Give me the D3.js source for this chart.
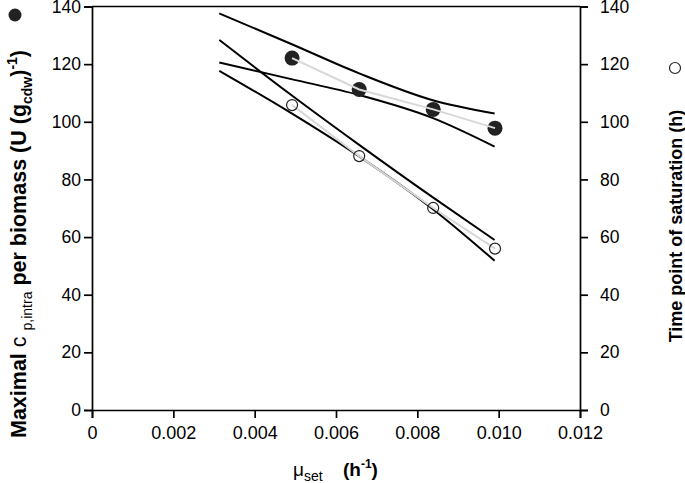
<!DOCTYPE html>
<html>
<head>
<meta charset="utf-8">
<script src="https://cdn.jsdelivr.net/npm/d3@7"></script>
<style>
  body { margin: 0; background: #fff; }
  svg { font-family: Arial, "Liberation Sans", sans-serif; }
</style>
</head>
<body>
<svg width="685" height="483"></svg>
<script>
// growth rate (h^-1)
const mu = [0.00492, 0.00657, 0.00839, 0.00991];
// maximal c_p,intra per biomass (filled)
const cpMax = [122.1, 111.2, 104.3, 97.8];
// time point of saturation (open)
const tSat = [105.8, 88.1, 70.1, 56.0];

// band lines, x then y
const bandX = [0.00313, 0.0049, 0.00657, 0.0084, 0.0099];
const cpUpper = [137.6, 127.0, 116.8, 107.4, 102.9];
const cpLower = [120.6, 114.8, 109.3, 101.2, 91.4];
const tUpper = [128.4, 109.3, 92.0, 73.6, 59.0];
const tLower = [117.7, 103.0, 88.0, 69.5, 51.8];

const xTicks = [0, 0.002, 0.004, 0.006, 0.008, 0.010, 0.012];
const yTicks = [0, 20, 40, 60, 80, 100, 120, 140];

const svg = d3.select("svg");
const mLeft = 92, mRight = 580, mTop = 6.5, mBottom = 410;

const x = d3.scaleLinear().domain([0, 0.012]).range([mLeft, mRight]);
const y = d3.scaleLinear().domain([0, 140]).range([mBottom, mTop]);

const axisW = 1.7;

const styleAxis = (g, size) => {
  g.selectAll("path, line").attr("stroke", "#000").attr("stroke-width", axisW);
  g.selectAll("text").attr("fill", "#000").style("font-size", size + "px");
};

svg.append("g")
  .attr("transform", "translate(0," + mBottom + ")")
  .call(d3.axisBottom(x).tickValues(xTicks).tickSize(8).tickPadding(8)
    .tickFormat(d => d === 0 ? "0" : d3.format(".3f")(d)))
  .call(g => styleAxis(g, 18));

svg.append("g")
  .attr("transform", "translate(" + mLeft + ",0)")
  .call(d3.axisLeft(y).tickValues(yTicks).tickSize(8).tickPadding(3))
  .call(g => styleAxis(g, 17.5));

svg.append("g")
  .attr("transform", "translate(" + mRight + ",0)")
  .call(d3.axisRight(y).tickValues(yTicks).tickSize(8).tickPadding(12))
  .call(g => styleAxis(g, 17.5));

// top frame line
svg.append("line")
  .attr("x1", mLeft).attr("x2", mRight)
  .attr("y1", mTop).attr("y2", mTop)
  .attr("stroke", "#000").attr("stroke-width", axisW);

const band = d3.line()
  .x((d, i) => x(bandX[i]))
  .y(d => y(d))
  .curve(d3.curveMonotoneX);

[cpUpper, cpLower, tUpper, tLower].forEach(arr => {
  svg.append("path")
    .attr("d", band(arr))
    .attr("fill", "none")
    .attr("stroke", "#000")
    .attr("stroke-width", 2);
});

const link = d3.line().x((d, i) => x(mu[i])).y(d => y(d));

// filled markers
svg.append("g").selectAll("circle")
  .data(cpMax)
  .join("circle")
  .attr("cx", (d, i) => x(mu[i]))
  .attr("cy", d => y(d))
  .attr("r", 7.5)
  .attr("fill", "#222");

[cpMax, tSat].forEach(arr => {
  svg.append("path")
    .attr("d", link(arr))
    .attr("fill", "none")
    .attr("stroke", "#d8d8d8")
    .attr("stroke-width", 2);
});

// open markers
svg.append("g").selectAll("circle")
  .data(tSat)
  .join("circle")
  .attr("cx", (d, i) => x(mu[i]))
  .attr("cy", d => y(d))
  .attr("r", 5.5)
  .attr("fill", "none")
  .attr("stroke", "#222")
  .attr("stroke-width", 1.2);

// left title
const lt = svg.append("text")
  .attr("transform", "translate(26,244) rotate(-90)")
  .attr("text-anchor", "middle")
  .attr("fill", "#000")
  .style("font-size", "21.5px");
lt.append("tspan").attr("font-weight", "bold").text("Maximal ");
lt.append("tspan").text("c ");
lt.append("tspan").style("font-size", "14px").attr("dy", 6).text("p,intra");
lt.append("tspan").attr("font-weight", "bold").attr("dy", -6).text(" per biomass (U (g");
lt.append("tspan").attr("font-weight", "bold").style("font-size", "14px").attr("dy", 6).text("cdw");
lt.append("tspan").attr("font-weight", "bold").attr("dy", -6).text(")");
lt.append("tspan").attr("font-weight", "bold").style("font-size", "14px").attr("dy", -9).text("-1");
lt.append("tspan").attr("font-weight", "bold").attr("dy", 9).text(")");

svg.append("circle").attr("cx", 15).attr("cy", 15).attr("r", 6.5).attr("fill", "#222");

// right title
svg.append("text")
  .attr("transform", "translate(682,226) rotate(-90)")
  .attr("text-anchor", "middle")
  .attr("font-weight", "bold")
  .attr("fill", "#000")
  .style("font-size", "18px")
  .text("Time point of saturation (h)");

svg.append("circle").attr("cx", 675).attr("cy", 68).attr("r", 5.5)
  .attr("fill", "none").attr("stroke", "#222").attr("stroke-width", 1.2);

// x title
const xt = svg.append("text")
  .attr("x", 293).attr("y", 476)
  .attr("fill", "#000")
  .style("font-size", "19px");
xt.append("tspan").text("μ");
xt.append("tspan").style("font-size", "14px").attr("dy", 5).text("set");
const xt2 = svg.append("text")
  .attr("x", 343).attr("y", 476)
  .attr("fill", "#000")
  .attr("font-weight", "bold")
  .style("font-size", "19px");
xt2.append("tspan").text("(h");
xt2.append("tspan").style("font-size", "12px").attr("dy", -8).text("-1");
xt2.append("tspan").attr("dy", 8).text(")");
</script>
</body>
</html>
